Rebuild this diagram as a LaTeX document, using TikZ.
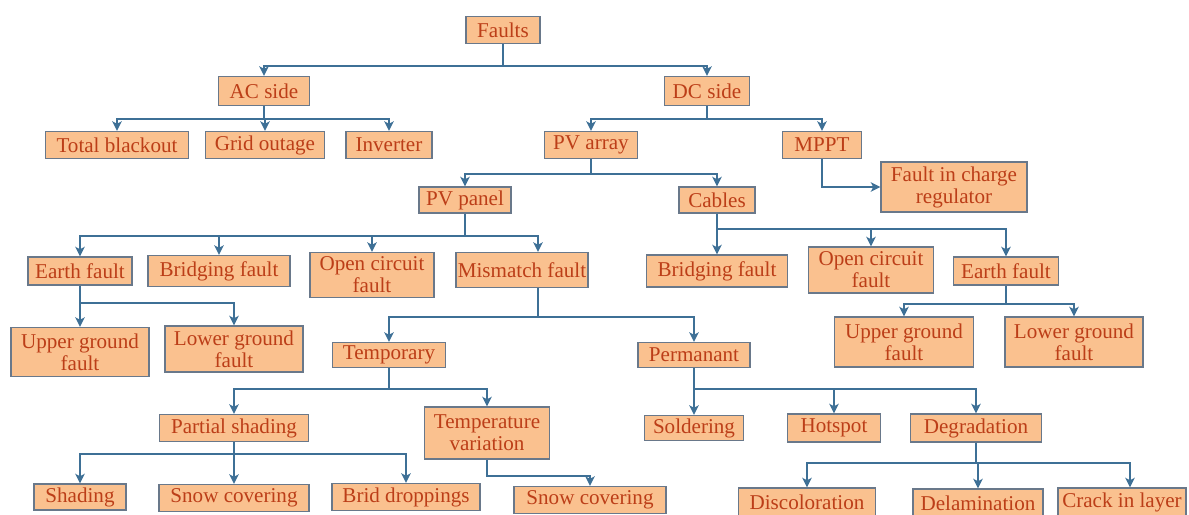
\documentclass[tikz,border=0pt]{standalone}
\usepackage{fontspec}
\setmainfont{Liberation Serif}
\usetikzlibrary{arrows.meta}
\definecolor{boxfill}{RGB}{250,193,143}
\definecolor{boxline}{RGB}{105,120,138}
\definecolor{txtred}{RGB}{188,62,24}
\definecolor{linkblue}{RGB}{62,112,150}
\begin{document}
\begin{tikzpicture}[x=0.2mm, y=-0.2mm,
  fbox/.style={draw=boxline, line width=0.8pt, fill=boxfill, text=txtred,
    font=\fontsize{12}{12.5}\selectfont, align=center, inner sep=1pt},
  link/.style={draw=linkblue, line width=1.1pt,
    -{Stealth[length=1.9mm, width=1.9mm, inset=0.5mm]}}]
  \useasboundingbox (0,0) rectangle (1189,514);
  % top levels
  \node[fbox, minimum width=14.8mm, minimum height=5.4mm] (faults) at (503,30) {Faults};
  \node[fbox, minimum width=18.2mm, minimum height=5.8mm] (acside) at (264,91) {AC side};
  \node[fbox, minimum width=17mm, minimum height=5.8mm] (dcside) at (707,91) {DC side};
  \node[fbox, minimum width=28.6mm, minimum height=5.4mm] (blackout) at (117,145) {Total blackout};
  \node[fbox, minimum width=23.8mm, minimum height=5.4mm] (outage) at (265,145) {Grid outage};
  \node[fbox, minimum width=17.2mm, minimum height=5.4mm] (inverter) at (389,145) {Inverter};
  \node[fbox, minimum width=18.6mm, minimum height=5.4mm] (pvarray) at (591,145) {PV array};
  \node[fbox, minimum width=15.8mm, minimum height=5.4mm] (mppt) at (822,145) {MPPT};
  \node[fbox, minimum width=29.2mm, minimum height=10mm] (regulator) at (954,187) {Fault in charge\\regulator};
  \node[fbox, minimum width=18.4mm, minimum height=5.2mm] (pvpanel) at (465,200) {PV panel};
  \node[fbox, minimum width=15.2mm, minimum height=5.2mm] (cables) at (717,200) {Cables};
  % fault types
  \node[fbox, minimum width=20.8mm, minimum height=5.6mm] (earthA) at (80,271) {Earth fault};
  \node[fbox, minimum width=28.4mm, minimum height=6.2mm] (bridgeA) at (219,271) {Bridging fault};
  \node[fbox, minimum width=24.8mm, minimum height=9mm] (openA) at (372,275) {Open circuit\\fault};
  \node[fbox, minimum width=24.2mm, minimum height=7mm] (mismatch) at (522,270) {Mismatch fault};
  \node[fbox, minimum width=28.2mm, minimum height=6.4mm] (bridgeB) at (717,271) {Bridging fault};
  \node[fbox, minimum width=25mm, minimum height=9.2mm] (openB) at (871,270) {Open circuit\\fault};
  \node[fbox, minimum width=21mm, minimum height=5.6mm] (earthB) at (1006,271) {Earth fault};
  \node[fbox, minimum width=27.6mm, minimum height=9.8mm] (upperA) at (80,352) {Upper ground\\fault};
  \node[fbox, minimum width=27.6mm, minimum height=9.2mm] (lowerA) at (234,349) {Lower ground\\fault};
  \node[fbox, minimum width=27.8mm, minimum height=10mm] (upperB) at (904,342) {Upper ground\\fault};
  \node[fbox, minimum width=27.6mm, minimum height=10mm] (lowerB) at (1074,342) {Lower ground\\fault};
  % mismatch branch
  \node[fbox, minimum width=22.6mm, minimum height=5mm] (temporary) at (389,355) {Temporary};
  \node[fbox, minimum width=22.4mm, minimum height=5mm] (permanent) at (694,355) {Permanant};
  \node[fbox, minimum width=29.8mm, minimum height=5.4mm] (partial) at (234,428) {Partial shading};
  \node[fbox, minimum width=25mm, minimum height=10.4mm] (tempvar) at (487,433) {Temperature\\variation};
  \node[fbox, minimum width=19.8mm, minimum height=5mm] (soldering) at (694,428) {Soldering};
  \node[fbox, minimum width=18.6mm, minimum height=5.6mm] (hotspot) at (834,428) {Hotspot};
  \node[fbox, minimum width=26.2mm, minimum height=5.6mm] (degradation) at (976,428) {Degradation};
  \node[fbox, minimum width=18.4mm, minimum height=5.2mm] (shading) at (80,497) {Shading};
  \node[fbox, minimum width=30mm, minimum height=5.4mm] (snowA) at (234,498) {Snow covering};
  \node[fbox, minimum width=29.6mm, minimum height=5.4mm] (droppings) at (406,497) {Brid droppings};
  \node[fbox, minimum width=30.4mm, minimum height=5.4mm] (snowB) at (590,500) {Snow covering};
  \node[fbox, minimum width=27.4mm, minimum height=5.6mm] (discolor) at (807,502) {Discoloration};
  \node[fbox, minimum width=26mm, minimum height=5.6mm] (delam) at (978,503) {Delamination};
  \node[fbox, minimum width=25.6mm, minimum height=5.6mm] (crack) at (1122,502) {Crack in layer};
  % connectors
  \foreach \c in {acside,dcside}
    \draw[link] (faults.south) -- ++(0,21.5) -| (\c.north);
  \foreach \c in {blackout,outage,inverter}
    \draw[link] (acside.south) -- ++(0,12.5) -| (\c.north);
  \foreach \c in {pvarray,mppt}
    \draw[link] (dcside.south) -- ++(0,12.5) -| (\c.north);
  \draw[link] (mppt.south) |- (regulator.west);
  \foreach \c in {pvpanel,cables}
    \draw[link] (pvarray.south) -- ++(0,14.5) -| (\c.north);
  \foreach \c in {earthA,bridgeA,openA}
    \draw[link] (pvpanel.south) -- ++(0,22) -| (\c.north);
  \draw[link] (pvpanel.south) -- ++(0,22) -| ([xshift=3.2mm]mismatch.north);
  \foreach \c in {bridgeB,openB,earthB}
    \draw[link] (cables.south) -- ++(0,15) -| (\c.north);
  \foreach \c in {upperA,lowerA}
    \draw[link] (earthA.south) -- ++(0,17) -| (\c.north);
  \foreach \c in {upperB,lowerB}
    \draw[link] (earthB.south) -- ++(0,18) -| (\c.north);
  \foreach \c in {temporary,permanent}
    \draw[link] ([xshift=3.2mm]mismatch.south) -- ++(0,28.5) -| (\c.north);
  \foreach \c in {partial,tempvar}
    \draw[link] (temporary.south) -- ++(0,20.5) -| (\c.north);
  \foreach \c in {soldering,hotspot,degradation}
    \draw[link] (permanent.south) -- ++(0,20.5) -| (\c.north);
  \foreach \c in {shading,snowA,droppings}
    \draw[link] (partial.south) -- ++(0,11.5) -| (\c.north);
  \draw[link] (tempvar.south) -- ++(0,16) -| (snowB.north);
  \foreach \c in {discolor,delam}
    \draw[link] (degradation.south) -- ++(0,20) -| (\c.north);
  \draw[link] (degradation.south) -- ++(0,20) -| ([xshift=1.6mm]crack.north);
\end{tikzpicture}
\end{document}
